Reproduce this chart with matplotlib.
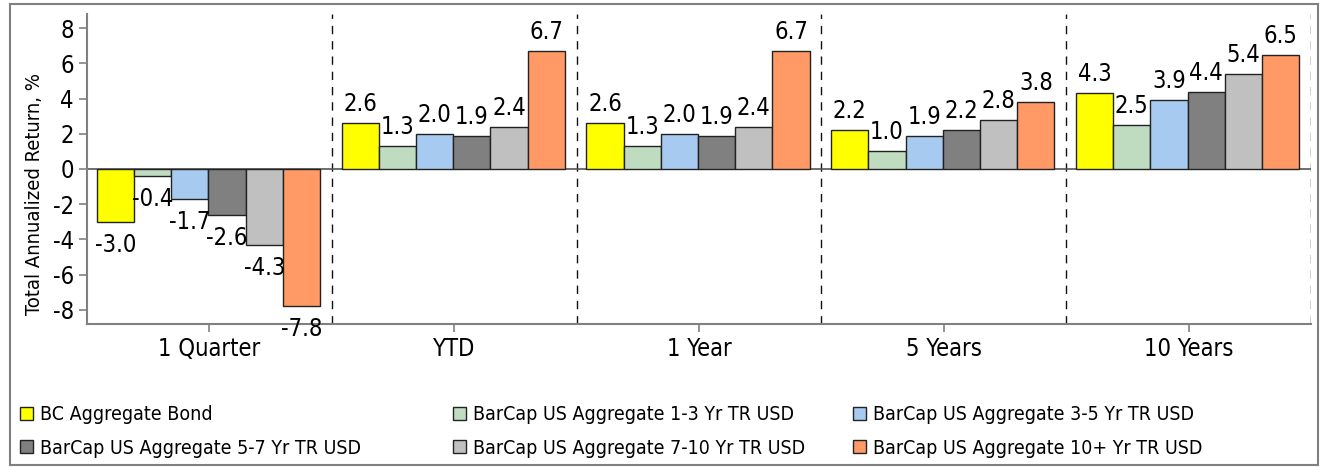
import matplotlib
matplotlib.use("Agg")
import matplotlib.pyplot as plt
from matplotlib.patches import Patch, Rectangle
import numpy as np

plt.rcParams['font.family'] = ['Liberation Sans Narrow', 'DejaVu Sans']
plt.rcParams['font.stretch'] = 'condensed'

periods = ["1 Quarter", "YTD", "1 Year", "5 Years", "10 Years"]
series_names = [
    "BC Aggregate Bond",
    "BarCap US Aggregate 1-3 Yr TR USD",
    "BarCap US Aggregate 3-5 Yr TR USD",
    "BarCap US Aggregate 5-7 Yr TR USD",
    "BarCap US Aggregate 7-10 Yr TR USD",
    "BarCap US Aggregate 10+ Yr TR USD",
]
bc_aggregate = [-3.0, 2.6, 2.6, 2.2, 4.3]
agg_1_3 = [-0.4, 1.3, 1.3, 1.0, 2.5]
agg_3_5 = [-1.7, 2.0, 2.0, 1.9, 3.9]
agg_5_7 = [-2.6, 1.9, 1.9, 2.2, 4.4]
agg_7_10 = [-4.3, 2.4, 2.4, 2.8, 5.4]
agg_10_plus = [-7.8, 6.7, 6.7, 3.8, 6.5]
series_values = [bc_aggregate, agg_1_3, agg_3_5, agg_5_7, agg_7_10, agg_10_plus]
colors = ["#FFFF00", "#C0DCC0", "#A6CAF0", "#808080", "#C0C0C0", "#FF9966"]
yticks = [-8, -6, -4, -2, 0, 2, 4, 6, 8]

W, H = 1321, 467
fig = plt.figure(figsize=(W / 100, H / 100), dpi=100)
ax = fig.add_axes([87 / W, 1 - 324 / H, (1311 - 87) / W, (324 - 14) / H])

# outer frame around the whole figure
fig.patches.append(Rectangle((10 / W, 2 / H), (1318 - 10) / W, (465 - 4) / H,
                             transform=fig.transFigure, fill=False,
                             edgecolor="#808080", linewidth=1.5))

bar_w = 0.152
start = 0.04
x0 = np.arange(len(periods))
for k, (vals, col) in enumerate(zip(series_values, colors)):
    xs = x0 + start + k * bar_w
    ax.bar(xs, vals, width=bar_w, align="edge", color=col,
           edgecolor="#222222", linewidth=1.0, zorder=3)
    for x, v in zip(xs, vals):
        ax.annotate(f"{v:.1f}", (x + bar_w / 2, v),
                    xytext=(0, 5 if v >= 0 else -8), textcoords="offset points",
                    ha="center", va="bottom" if v >= 0 else "top",
                    fontsize=17, color="#000000", zorder=4)

for b in range(1, len(periods) + 1):
    ax.axvline(b, color="#111111", linewidth=1.0, dashes=(6, 5), zorder=2)
ax.axhline(0, color="#555555", linewidth=1.2, zorder=2)

ax.set_xlim(0, len(periods))
ax.set_ylim(-8.8, 8.8)
ax.set_yticks(yticks)
ax.set_yticklabels([str(t) for t in yticks])
ax.set_xticks(x0 + 0.5)
ax.set_xticklabels(periods)
ax.tick_params(axis="both", labelsize=17, colors="#808080", labelcolor="#000000",
               length=6, width=1.2)
ax.set_ylabel("Total Annualized Return, %", fontsize=14.5, color="#000000")
ax.yaxis.set_label_coords(-0.035, 0.42)
for s in ["top", "right"]:
    ax.spines[s].set_visible(False)
for s in ["left", "bottom"]:
    ax.spines[s].set_color("#808080")
    ax.spines[s].set_linewidth(1.5)

handles = [Patch(facecolor=c, edgecolor="#222222", linewidth=1.0) for c in colors]
col_x = [20 / W, 453 / W, 853 / W]
for c in range(3):
    idx = [c, c + 3]
    fig.legend([handles[i] for i in idx], [series_names[i] for i in idx],
               loc="upper left", bbox_to_anchor=(col_x[c], 1 - 405 / H),
               frameon=False, fontsize=14, handlelength=0.65, handleheight=0.65,
               handletextpad=0.4, labelspacing=0.75, borderpad=0, borderaxespad=0)

fig.savefig("out.png", dpi=100)
